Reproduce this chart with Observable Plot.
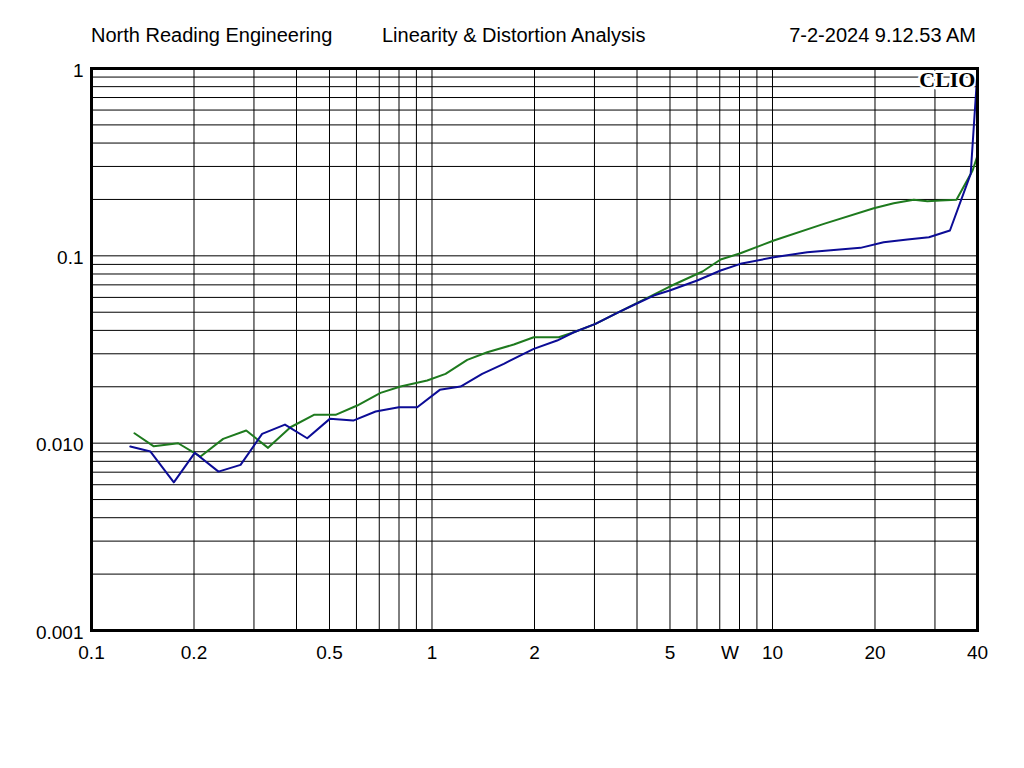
<!DOCTYPE html>
<html><head><meta charset="utf-8">
<script src="https://cdn.jsdelivr.net/npm/d3@7"></script>
<script src="https://cdn.jsdelivr.net/npm/@observablehq/plot@0.6"></script>
<style>
body{margin:0;background:#fff;}
#wrap{position:relative;width:1024px;height:768px;font-family:"Liberation Sans",Arial,sans-serif;}
.hdr{position:absolute;top:25px;font-size:20px;line-height:1;color:#000;white-space:nowrap;}
#chart{position:absolute;left:0;top:0;}
</style></head><body>
<div id="wrap">
<div id="chart"></div>
<div class="hdr" id="h1" style="left:91px"></div>
<div class="hdr" id="h2" style="left:382px"></div>
<div class="hdr" id="h3" style="right:48px"></div>
</div>
<script>
const headerTexts = ["North Reading Engineering", "Linearity & Distortion Analysis", "7-2-2024 9.12.53 AM"];
const brandText = "CLIO";

const blueX = [0.130,0.149,0.1745,0.201,0.236,0.274,0.317,0.370,0.430,0.501,0.587,0.683,0.799,0.905,1.054,1.213,1.404,1.625,1.99,2.33,2.61,3.02,3.50,4.01,4.48,4.99,6.01,7.04,8.05,10.09,12.65,18.13,21.2,24.9,28.8,33.2,38.2,40];
const blueY = [0.00959,0.00902,0.00618,0.00888,0.00705,0.00766,0.01121,0.01257,0.01062,0.01348,0.01320,0.01475,0.01555,0.01555,0.01926,0.02005,0.02344,0.02651,0.03188,0.03530,0.03910,0.04334,0.04963,0.05583,0.06138,0.06527,0.07381,0.08347,0.09064,0.09829,0.1045,0.1103,0.1182,0.1222,0.1257,0.1365,0.2741,0.9757];

const greenX = [0.1337,0.1524,0.1797,0.209,0.2436,0.2847,0.330,0.384,0.450,0.521,0.603,0.706,0.808,0.968,1.096,1.269,1.453,1.739,1.99,2.357,2.61,3.02,3.50,4.29,4.99,6.23,7.04,8.05,10.09,14.15,19.84,22.7,26.0,28.5,31.1,34.7,38.7,40];
const greenY = [0.01129,0.00962,0.00999,0.00848,0.01054,0.01168,0.00944,0.01216,0.01416,0.01416,0.01588,0.01856,0.02005,0.02159,0.02344,0.02784,0.03057,0.03361,0.03675,0.03675,0.03910,0.04334,0.04963,0.05968,0.06857,0.08245,0.09555,0.1032,0.1207,0.1482,0.1795,0.1909,0.1991,0.1956,0.1973,0.1991,0.2854,0.3431];

const xGrid = [0.2,0.3,0.4,0.5,0.6,0.7,0.8,0.9,1,2,3,4,5,6,7,8,9,10,20,30,40];
const yGrid = [0.002,0.003,0.004,0.005,0.006,0.007,0.008,0.009,0.01,0.02,0.03,0.04,0.05,0.06,0.07,0.08,0.09,0.1,0.2,0.3,0.4,0.5,0.6,0.7,0.8,0.9,1];
const xTicks = [0.1,0.2,0.5,1,2,5,7.5,10,20,40];
const xTickLabels = ["0.1","0.2","0.5","1","2","5","W","10","20","40"];
const yTicks = [1,0.1,0.01,0.001];
const yTickLabels = ["1","0.1","0.010","0.001"];

document.getElementById("h1").textContent = headerTexts[0];
document.getElementById("h2").textContent = headerTexts[1];
document.getElementById("h3").textContent = headerTexts[2];

const blue = blueX.map((x, i) => ({x, y: blueY[i]}));
const green = greenX.map((x, i) => ({x, y: greenY[i]}));
const xLab = xTicks.map((v, i) => ({v, t: xTickLabels[i]}));
const yLab = yTicks.map((v, i) => ({v, t: yTickLabels[i]}));

const font = '"Liberation Sans", Arial, sans-serif';
const plot = Plot.plot({
  width: 1024, height: 768,
  marginTop: 68, marginLeft: 91, marginRight: 47, marginBottom: 138,
  style: {fontFamily: font, fontSize: "19px", background: "#fff", color: "#000", overflow: "visible"},
  x: {type: "log", domain: [0.1, 40], axis: null},
  y: {type: "log", domain: [0.001, 1], axis: null},
  marks: [
    Plot.ruleX(xGrid, {stroke: "#000", strokeWidth: 1}),
    Plot.ruleY(yGrid, {stroke: "#000", strokeWidth: 1}),
    Plot.text([brandText], {frameAnchor: "top-right", dx: -2, dy: 3, fontFamily: '"Liberation Serif", "DejaVu Serif", serif', fontWeight: "bold", fontSize: 22, fill: "#000", stroke: "#fff", strokeWidth: 5, paintOrder: "stroke"}),
    Plot.line(green, {x: "x", y: "y", stroke: "#1e7a1e", strokeWidth: 2}),
    Plot.line(blue, {x: "x", y: "y", stroke: "#0c0c96", strokeWidth: 2}),
    Plot.frame({stroke: "#000", strokeWidth: 3}),
    Plot.text(xLab, {x: "v", text: "t", frameAnchor: "bottom", lineAnchor: "top", dy: 15, fontSize: 19, fontFamily: font, fill: "#000"}),
    Plot.text(yLab, {y: "v", text: "t", frameAnchor: "left", textAnchor: "end", dx: -8, dy: 2, fontSize: 19, fontFamily: font, fill: "#000"})
  ]
});
document.getElementById("chart").appendChild(plot);
</script>
</body></html>
